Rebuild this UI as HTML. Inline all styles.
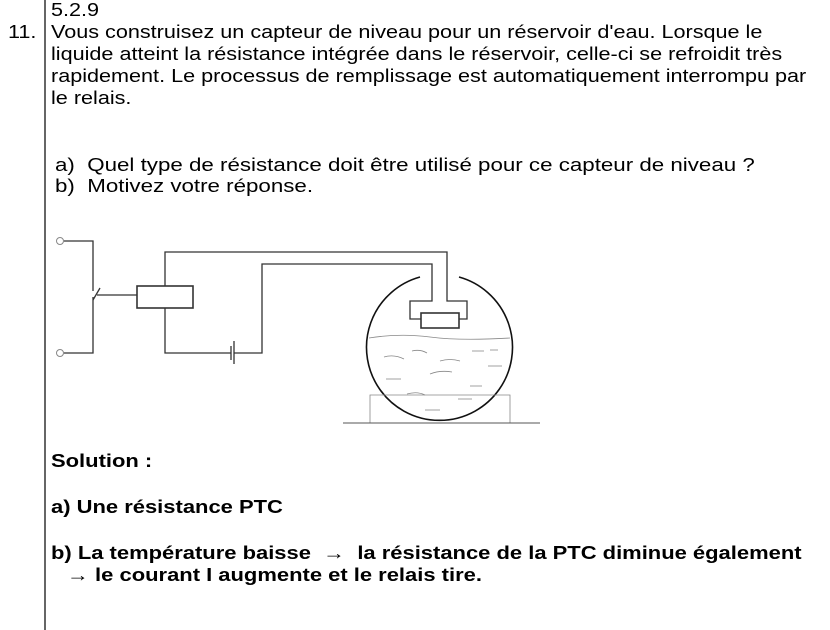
<!DOCTYPE html>
<html><head><meta charset="utf-8"><style>
body{margin:0;width:830px;height:630px;background:#fff;position:relative;overflow:hidden;font-family:"Liberation Sans",Arial,sans-serif;font-size:18px;color:#000}
.t{position:absolute;white-space:nowrap;line-height:20px;transform:scaleX(1.2);transform-origin:0 0}
.b{font-weight:bold;transform:scaleX(1.22)}
.q{transform:scaleX(1.24)}
</style></head><body>
<div style="position:absolute;left:44px;top:0;width:2px;height:630px;background:#666"></div>
<div class="t" style="left:51px;top:0">5.2.9</div>
<div class="t" style="left:8px;top:22px">11.</div>
<div class="t" style="left:51px;top:22px">Vous construisez un capteur de niveau pour un réservoir d'eau. Lorsque le</div>
<div class="t" style="left:51px;top:44px">liquide atteint la résistance intégrée dans le réservoir, celle-ci se refroidit très</div>
<div class="t" style="left:51px;top:66px">rapidement. Le processus de remplissage est automatiquement interrompu par</div>
<div class="t" style="left:51px;top:88px">le relais.</div>
<div class="t q" style="left:55px;top:155px">a)&nbsp; Quel type de résistance doit être utilisé pour ce capteur de niveau ?</div>
<div class="t q" style="left:55px;top:176px">b)&nbsp; Motivez votre réponse.</div>
<div class="t b" style="left:51px;top:451px">Solution :</div>
<div class="t b" style="left:51px;top:497px">a) Une résistance PTC</div>
<div class="t b" style="left:51px;top:543px">b) La température baisse &nbsp;→ &nbsp;la résistance de la PTC diminue également</div>
<div class="t b" style="left:67px;top:565px">→ le courant I augmente et le relais tire.</div>
<svg style="position:absolute;left:0;top:0" width="830" height="630">
<g fill="none" stroke="#333" stroke-width="1.3">
<circle cx="60" cy="241" r="3.5" stroke="#888" stroke-width="1"/>
<circle cx="60" cy="353" r="3.5" stroke="#888" stroke-width="1"/>
<polyline points="64,241 93,241 93,291"/>
<line x1="93" y1="300" x2="100" y2="288"/>
<polyline points="93,297 93,353 64,353"/>
<line x1="97" y1="295" x2="137" y2="295"/>
<rect x="137" y="286" width="56" height="22" stroke-width="1.6"/>
<polyline points="165,286 165,252 447,252 447,301 467,301 467,319 459,319"/>
<polyline points="165,308 165,353 231,353"/>
<line x1="231" y1="346" x2="231" y2="360"/>
<line x1="234" y1="341" x2="234" y2="364"/>
<polyline points="234,353 262,353 262,264 432,264 432,301 410,301 410,319 421,319"/>
<rect x="421" y="313" width="38" height="15" stroke-width="1.6"/>
<path d="M420,277 A73,73 0 1 0 459,277" stroke="#111" stroke-width="1.6"/>
<path d="M369,338 Q400,333 430,337 T510,338" stroke="#888" stroke-width="0.8"/>
<g stroke="#888" stroke-width="0.8">
<path d="M384,357 q10,-3 20,2"/><path d="M412,351 q8,-2 15,2"/><path d="M472,351 h12"/><path d="M490,350 h8"/>
<path d="M440,361 q10,-3 20,0"/><path d="M488,366 h14"/>
<path d="M386,379 h15"/><path d="M430,374 q10,-4 22,-2"/><path d="M470,386 h12"/>
<path d="M407,394 q10,-3 18,1"/><path d="M458,399 h14"/><path d="M425,410 h15"/>
<path d="M370,423 V395 H510 V423"/>
</g>
<line x1="343" y1="423" x2="540" y2="423" stroke="#555" stroke-width="1"/>
</g>
</svg>
</body></html>
